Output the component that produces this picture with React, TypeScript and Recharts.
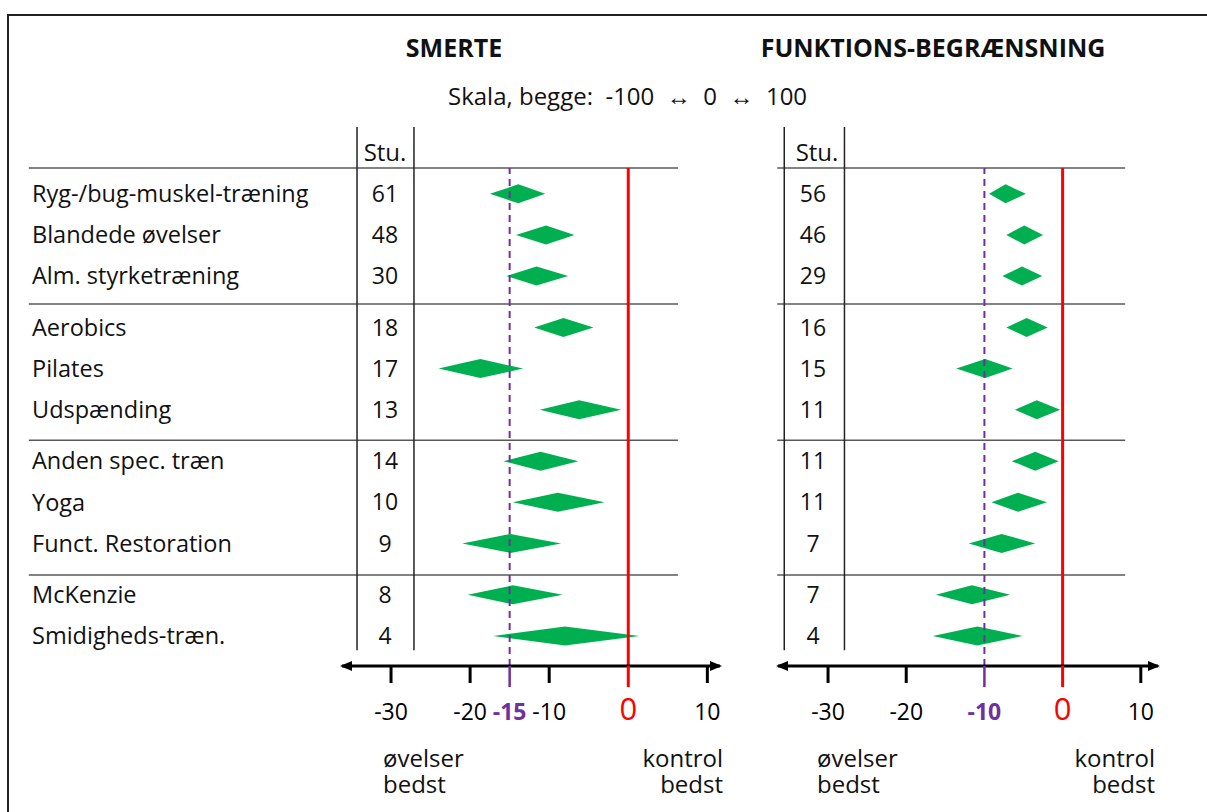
import React from 'react'
import { BarChart, Bar, XAxis, YAxis, ReferenceLine } from 'recharts'

const labels = [
  'Ryg-/bug-muskel-træning',
  'Blandede øvelser',
  'Alm. styrketræning',
  'Aerobics',
  'Pilates',
  'Udspænding',
  'Anden spec. træn',
  'Yoga',
  'Funct. Restoration',
  'McKenzie',
  'Smidigheds-træn.',
]
// row positions (groups of 3/3/3/2 with a small gap between groups)
const rowPos = [0, 1, 2, 3.25, 4.25, 5.25, 6.5, 7.5, 8.5, 9.75, 10.75]
const ruleRows = [-0.63, 2.68, 5.99, 9.27]

const smerteStudies = [61, 48, 30, 18, 17, 13, 14, 10, 9, 8, 4]
const smerteLow = [-17.5, -14.2, -15.4, -11.9, -24.0, -11.2, -15.8, -14.6, -21.0, -20.3, -17.1]
const smerteMid = [-13.9, -10.4, -11.6, -8.2, -18.7, -6.2, -11.1, -8.9, -14.9, -14.6, -8.0]
const smerteHigh = [-10.5, -6.8, -7.6, -4.4, -13.3, -0.9, -6.3, -3.0, -8.5, -8.3, 1.4]

const funkStudies = [56, 46, 29, 16, 15, 11, 11, 11, 7, 7, 4]
const funkLow = [-9.4, -7.2, -7.7, -7.2, -13.6, -6.1, -6.5, -9.1, -12.0, -16.2, -16.6]
const funkMid = [-7.3, -4.9, -5.2, -4.6, -9.9, -3.3, -3.5, -5.7, -7.8, -11.6, -10.9]
const funkHigh = [-4.7, -2.5, -2.6, -1.9, -6.4, -0.3, -0.5, -2.0, -3.5, -6.7, -5.1]

const smerteTicks = [-30, -20, -15, -10, 0, 10]
const funkTicks = [-30, -20, -10, 0, 10]

const FONT = '"Open Sans", sans-serif'
const GREEN = '#00B050'
const PURPLE = '#7030A0'
const RED = '#FF0000'
const RULE = '#595959'

const Diamond = (p: any) => {
  const { x, y, width, height, payload } = p
  const [lo, hi] = payload.range
  const cx = x + (width * (payload.mid - lo)) / (hi - lo)
  const cy = y + height / 2
  return (
    <polygon
      points={`${x},${cy} ${cx},${y} ${x + width},${cy} ${cx},${y + height}`}
      fill={GREEN}
    />
  )
}

const RowTick = ({ y, payload, numX, showLabel, studies }: any) => {
  const i = rowPos.indexOf(payload.value)
  if (i < 0) return null
  return (
    <g>
      {showLabel && (
        <text x={32} y={y} dy="0.35em" textAnchor="start" fontFamily={FONT} fontSize={23.5} fill="#111">
          {labels[i]}
        </text>
      )}
      <text x={numX} y={y} dy="0.35em" textAnchor="middle" fontFamily={FONT} fontSize={23} fill="#111">
        {studies[i]}
      </text>
    </g>
  )
}

const AxisTick = ({ x, y, payload, refVal }: any) => {
  const v = payload.value
  const color = v === 0 ? RED : v === refVal ? PURPLE : '#000'
  const long = v === 0 || v === refVal
  return (
    <g>
      <line x1={x} x2={x} y1={y} y2={y + (long ? 21 : 17)} stroke={color} strokeWidth={v === refVal ? 2.5 : 3} />
      <text
        x={x}
        y={y + 54}
        textAnchor="middle"
        fill={color}
        fontFamily={FONT}
        fontSize={v === 0 ? 31 : 23}
        fontWeight={v === refVal ? 700 : 400}
      >
        {`${v}`}
      </text>
    </g>
  )
}

type PanelProps = {
  left: number
  width: number
  marginRight: number
  yAxisWidth: number
  domain: [number, number]
  ticks: number[]
  refVal: number
  low: number[]
  mid: number[]
  high: number[]
  studies: number[]
  showLabels: boolean
  numX: number
  tableX: [number, number]
  colX: number[]
}

const Panel = (p: PanelProps) => {
  const data = labels.map((name, i) => ({
    name,
    pos: rowPos[i],
    range: [p.low[i], p.high[i]],
    mid: p.mid[i],
  }))
  return (
    <div style={{ position: 'absolute', left: p.left, top: 0 }}>
      <BarChart
        width={p.width}
        height={812}
        data={data}
        layout="vertical"
        margin={{ top: 168, right: p.marginRight, bottom: 86, left: 0 }}
      >
        <XAxis
          type="number"
          domain={p.domain}
          ticks={p.ticks}
          interval={0}
          allowDataOverflow
          height={60}
          tickLine={false}
          tickSize={0}
          tickMargin={0}
          axisLine={{
            stroke: '#000',
            strokeWidth: 3,
            markerStart: 'url(#arrowStart)',
            markerEnd: 'url(#arrowEnd)',
          } as any}
          tick={(t: any) => <AxisTick {...t} refVal={p.refVal} />}
        />
        <YAxis
          type="number"
          dataKey="pos"
          domain={[-0.63, 11.48]}
          allowDataOverflow
          ticks={rowPos}
          interval={0}
          width={p.yAxisWidth}
          axisLine={false}
          tickLine={false}
          tick={(t: any) => (
            <RowTick {...t} numX={p.numX} showLabel={p.showLabels} studies={p.studies} />
          )}
        />
        <Bar dataKey="range" barSize={19} shape={Diamond} isAnimationActive={false} />
        {ruleRows.map((r) => (
          <ReferenceLine
            key={`r${r}`}
            segment={[
              { x: p.tableX[0], y: r },
              { x: p.tableX[1], y: r },
            ]}
            stroke={RULE}
            strokeWidth={1.5}
            ifOverflow="visible"
          />
        ))}
        {p.colX.map((c) => (
          <ReferenceLine
            key={`c${c}`}
            segment={[
              { x: c, y: -1.63 },
              { x: c, y: 11.1 },
            ]}
            stroke="#222"
            strokeWidth={1.5}
            ifOverflow="visible"
          />
        ))}
        <ReferenceLine x={p.refVal} stroke={PURPLE} strokeWidth={2} strokeDasharray="7 5" />
        <ReferenceLine x={0} stroke={RED} strokeWidth={3} />
      </BarChart>
    </div>
  )
}

// absolutely placed text block, positioned by the baseline of its first line
const Txt = ({
  x,
  base,
  size = 24,
  lh = 26,
  anchor = 'start',
  bold = false,
  color = '#111',
  children,
}: any) => (
  <div
    style={{
      position: 'absolute',
      left: x,
      top: base - size * 1.069 - (lh - size * 1.362) / 2,
      fontFamily: FONT,
      fontSize: size,
      lineHeight: `${lh}px`,
      fontWeight: bold ? 700 : 400,
      color,
      whiteSpace: 'pre',
      textAlign: anchor === 'end' ? 'right' : anchor === 'middle' ? 'center' : 'left',
      transform:
        anchor === 'middle' ? 'translateX(-50%)' : anchor === 'end' ? 'translateX(-100%)' : undefined,
    }}
  >
    {children}
  </div>
)

export default function App() {
  return (
    <div
      style={{
        position: 'absolute',
        left: 0,
        top: 0,
        width: 1207,
        height: 812,
        background: '#fff',
        overflow: 'hidden',
      }}
    >
      <svg width={0} height={0} style={{ position: 'absolute' }}>
        <defs>
          <marker
            id="arrowEnd"
            markerWidth={12}
            markerHeight={10}
            refX={10}
            refY={5}
            orient="auto"
            markerUnits="userSpaceOnUse"
          >
            <path d="M0,0 L12,5 L0,10 z" fill="#000" />
          </marker>
          <marker
            id="arrowStart"
            markerWidth={12}
            markerHeight={10}
            refX={10}
            refY={5}
            orient="auto-start-reverse"
            markerUnits="userSpaceOnUse"
          >
            <path d="M0,0 L12,5 L0,10 z" fill="#000" />
          </marker>
        </defs>
      </svg>
      <div
        style={{
          position: 'absolute',
          left: 7,
          top: 14,
          width: 1210,
          height: 810,
          borderTop: '2px solid #222',
          borderLeft: '2px solid #222',
        }}
      />

      <Txt x={454} base={57} size={25} lh={30} anchor="middle" bold>SMERTE</Txt>
      <Txt x={933} base={57} size={25} lh={30} anchor="middle" bold>FUNKTIONS-BEGRÆNSNING</Txt>
      <Txt x={448} base={105} lh={30}>{'Skala, begge:  -100  ↔  0  ↔  100'}</Txt>
      <Txt x={385} base={161} lh={30} anchor="middle">Stu.</Txt>
      <Txt x={817} base={161} lh={30} anchor="middle">Stu.</Txt>

      <Panel
        left={0}
        width={740}
        marginRight={20}
        yAxisWidth={342}
        domain={[-36.2, 11.6]}
        ticks={smerteTicks}
        refVal={-15}
        low={smerteLow}
        mid={smerteMid}
        high={smerteHigh}
        studies={smerteStudies}
        showLabels
        numX={385}
        tableX={[-75.8, 6.3]}
        colX={[-34.3, -27.1]}
      />
      <Panel
        left={760}
        width={447}
        marginRight={49}
        yAxisWidth={18}
        domain={[-36.4, 12.2]}
        ticks={funkTicks}
        refVal={-10}
        low={funkLow}
        mid={funkMid}
        high={funkHigh}
        studies={funkStudies}
        showLabels={false}
        numX={53}
        tableX={[-36.5, 8.0]}
        colX={[-35.6, -27.9]}
      />

      <Txt x={383} base={767}>{'øvelser\nbedst'}</Txt>
      <Txt x={723} base={767} anchor="end">{'kontrol\nbedst'}</Txt>
      <Txt x={817} base={767}>{'øvelser\nbedst'}</Txt>
      <Txt x={1155} base={767} anchor="end">{'kontrol\nbedst'}</Txt>
    </div>
  )
}
